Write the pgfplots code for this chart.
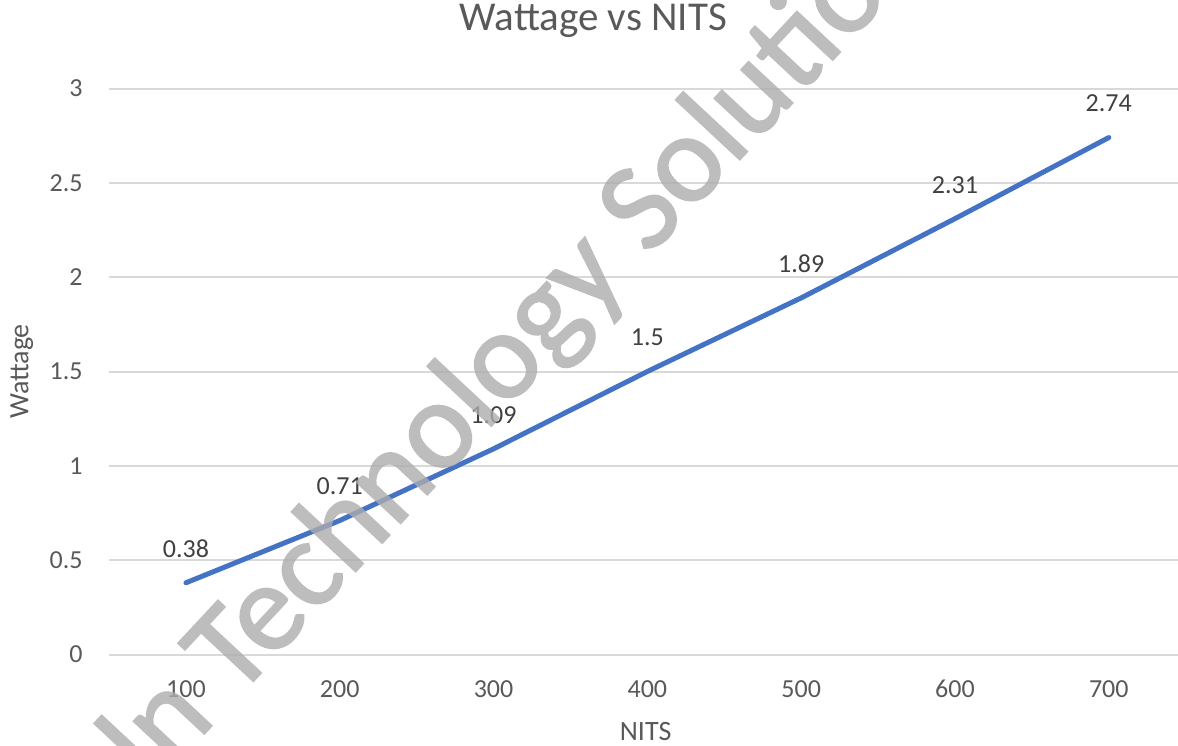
\documentclass[border=0pt]{standalone}
\usepackage{fontspec}
\setmainfont{Carlito}
\newfontfamily\wmfont{Carlito}[FakeBold=1.5]
\usepackage{pgfplots}
\pgfplotsset{compat=1.18}
\pgfkeys{/pgf/number format/assume math mode=true}
\definecolor{lineblue}{HTML}{4472C4}
\definecolor{gridgray}{HTML}{D9D9D9}
\definecolor{ticktext}{HTML}{595959}
\definecolor{labeltext}{HTML}{404040}
\definecolor{wmgray}{RGB}{172,172,174}
\begin{document}
\begin{tikzpicture}
\clip (0,0) rectangle (589pt,372.5pt);
\begin{axis}[
  at={(54.5pt,45.25pt)}, anchor=south west,
  scale only axis, width=534.5pt, height=283pt,
  xmin=-0.5, xmax=6.45, ymin=0, ymax=3,
  xtick={0,1,2,3,4,5,6},
  xticklabels={100,200,300,400,500,600,700},
  ytick={0,0.5,1,1.5,2,2.5,3},
  axis line style={draw=none},
  major tick length=0pt,
  ymajorgrids, grid style={gridgray, line width=1pt},
  tick label style={font=\fontsize{13}{15}\selectfont, text=ticktext},
  x tick label style={anchor=base, inner sep=0pt, yshift=-21.5pt},
  y tick label style={anchor=east, inner sep=0pt, xshift=-13pt},
  title={Wattage vs NITS},
  title style={font=\fontsize{20.5}{24}\selectfont, text=ticktext, at={(axis description cs:0.453,1)}, anchor=base, yshift=23pt, inner sep=0pt},
  xlabel={NITS},
  xlabel style={font=\fontsize{14}{16}\selectfont, text=ticktext, at={(axis description cs:0.502,0)}, anchor=base, yshift=-43pt, inner sep=0pt},
  ylabel={Wattage},
  ylabel style={font=\fontsize{14}{16}\selectfont, text=ticktext, at={(axis description cs:-0.0815,0.5)}, anchor=center, inner sep=0pt},
  nodes near coords,
  every node near coord/.append style={font=\fontsize{13}{15}\selectfont, text=labeltext, anchor=center, yshift=17pt},
  clip=false,
]
\addplot[color=lineblue, line width=2.5pt, line cap=round, line join=round, mark=none] table {
x y
0 0.38
1 0.71
2 1.09
3 1.5
4 1.89
5 2.31
6 2.74
};
\end{axis}
\begin{scope}[transparency group, opacity=0.8]
\node[font=\wmfont\fontsize{63}{66}\selectfont, text=wmgray, rotate=47, anchor=base west, inner sep=0pt] at (-15pt,-120pt) {Lincoln Technology Solutions};
\end{scope}
\end{tikzpicture}
\end{document}
